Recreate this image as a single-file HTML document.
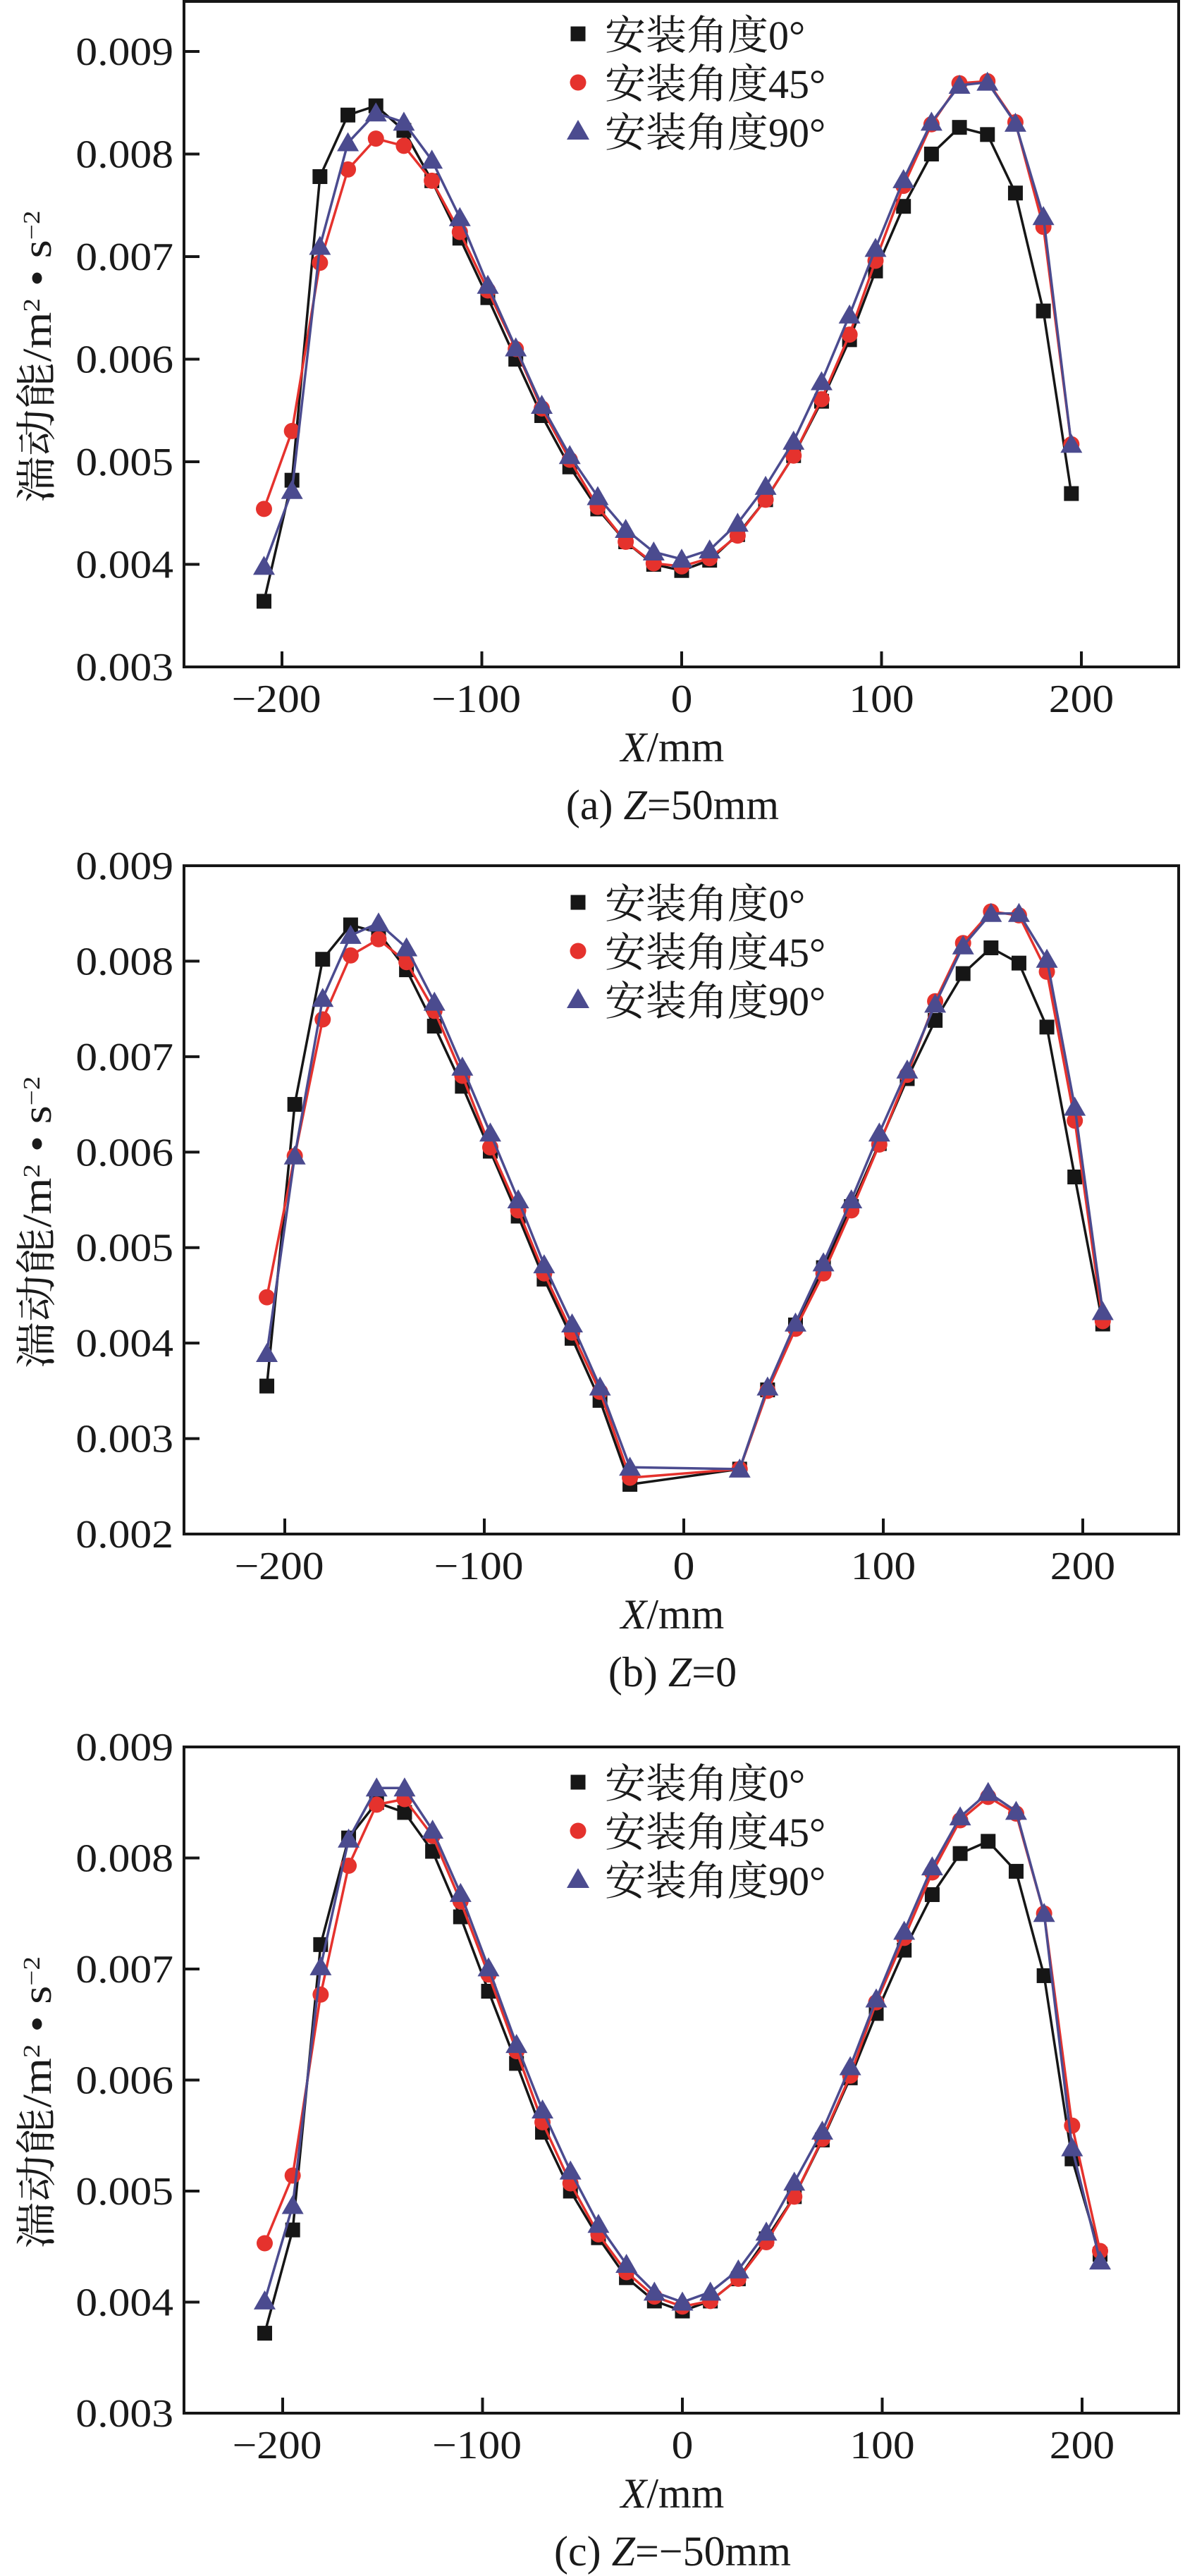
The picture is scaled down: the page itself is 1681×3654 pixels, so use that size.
<!DOCTYPE html>
<html><head><meta charset="utf-8"><title>湍动能分布</title>
<style>
html,body{margin:0;padding:0;background:#fff;}
svg{display:block;}
.num{font-family:"Liberation Serif","Noto Serif CJK SC",serif;font-size:56px;fill:#1a1a1a;}
.ttl{font-family:"Liberation Serif","Noto Serif CJK SC",serif;font-size:60px;fill:#1a1a1a;}
.cjk{font-family:"Liberation Serif","Noto Serif CJK SC",serif;font-size:58px;fill:#1a1a1a;}
</style></head>
<body>
<svg id="fig" width="1681" height="3654" viewBox="0 0 1681 3654" xmlns="http://www.w3.org/2000/svg"></svg>
<script>
// ---------- data ----------
const xA = [-209,-195,-181,-167,-153,-139,-125,-111,-97,-83,-70,-56,-42,-28,-14,0,14,28,42,56,70,84,97,111,125,139,153,167,181,195];
const a0  = [0.00364,0.00482,0.00778,0.00838,0.00847,0.00823,0.00774,0.00718,0.00660,0.00600,0.00545,0.00495,0.00454,0.00422,0.00400,0.00394,0.00404,0.00429,0.00463,0.00506,0.00559,0.00619,0.00686,0.00749,0.00800,0.00826,0.00819,0.00762,0.00647,0.00469];
const a45 = [0.00454,0.00530,0.00694,0.00785,0.00815,0.00808,0.00774,0.00724,0.00667,0.00610,0.00552,0.00502,0.00456,0.00422,0.00401,0.00398,0.00406,0.00428,0.00463,0.00506,0.00561,0.00624,0.00696,0.00769,0.00829,0.00869,0.00871,0.00831,0.00729,0.00517];
const a90 = [0.00398,0.00472,0.00710,0.00811,0.00840,0.00831,0.00794,0.00738,0.00672,0.00611,0.00555,0.00506,0.00466,0.00434,0.00412,0.00405,0.00414,0.00440,0.00476,0.00520,0.00578,0.00643,0.00708,0.00775,0.00831,0.00867,0.00870,0.00830,0.00739,0.00517];

const xB = [-209,-195,-181,-167,-153,-139,-125,-111,-97,-83,-70,-56,-42,-27,28,42,56,70,84,98,112,126,140,154,168,182,196,210];
const b0  = [0.00355,0.00650,0.00802,0.00838,0.00830,0.00791,0.00732,0.00669,0.00601,0.00533,0.00467,0.00405,0.00340,0.00252,0.00268,0.00351,0.00419,0.00479,0.00543,0.00609,0.00677,0.00738,0.00787,0.00814,0.00798,0.00731,0.00574,0.00420];
const b45 = [0.00448,0.00596,0.00739,0.00806,0.00823,0.00799,0.00748,0.00680,0.00605,0.00539,0.00473,0.00411,0.00349,0.00259,0.00268,0.00350,0.00415,0.00473,0.00539,0.00608,0.00681,0.00758,0.00819,0.00852,0.00848,0.00789,0.00633,0.00423];
const b90 = [0.00389,0.00596,0.00761,0.00827,0.00840,0.00814,0.00757,0.00689,0.00620,0.00550,0.00482,0.00420,0.00354,0.00270,0.00268,0.00354,0.00421,0.00484,0.00550,0.00620,0.00686,0.00755,0.00816,0.00850,0.00850,0.00802,0.00647,0.00433];

const xC = [-209,-195,-181,-167,-153,-139,-125,-111,-97,-83,-70,-56,-42,-28,-14,0,14,28,42,56,70,84,97,111,125,139,153,167,181,195,209];
const c0  = [0.00372,0.00465,0.00722,0.00818,0.00850,0.00841,0.00806,0.00747,0.00680,0.00615,0.00553,0.00500,0.00458,0.00422,0.00401,0.00392,0.00401,0.00421,0.00457,0.00495,0.00546,0.00602,0.00660,0.00717,0.00767,0.00804,0.00815,0.00788,0.00694,0.00529,0.00443];
const c45 = [0.00453,0.00514,0.00677,0.00793,0.00848,0.00853,0.00820,0.00761,0.00695,0.00626,0.00562,0.00507,0.00461,0.00427,0.00405,0.00396,0.00401,0.00421,0.00454,0.00495,0.00547,0.00604,0.00670,0.00728,0.00787,0.00834,0.00855,0.00840,0.00750,0.00559,0.00446];
const c90 = [0.00401,0.00487,0.00702,0.00817,0.00863,0.00863,0.00825,0.00768,0.00701,0.00632,0.00573,0.00518,0.00470,0.00434,0.00409,0.00400,0.00409,0.00429,0.00463,0.00508,0.00554,0.00612,0.00673,0.00734,0.00792,0.00837,0.00859,0.00842,0.00750,0.00539,0.00437];

const legendLabels = ["安装角度0°","安装角度45°","安装角度90°"];
const xTicks = [-200,-100,0,100,200];
const yTicksA = [0.003,0.004,0.005,0.006,0.007,0.008,0.009];
const yTicksB = [0.002,0.003,0.004,0.005,0.006,0.007,0.008,0.009];
const yTicksC = [0.003,0.004,0.005,0.006,0.007,0.008,0.009];
const captions = ["(a) ","(b) ","(c) "];
const captionRest = ["=50mm","=0","=−50mm"];

// ---------- drawing ----------
const NS = "http://www.w3.org/2000/svg";
const svg = document.getElementById("fig");
function mk(tag, attrs, parent){
  const e = document.createElementNS(NS, tag);
  for (const k in attrs) e.setAttribute(k, attrs[k]);
  (parent||svg).appendChild(e);
  return e;
}
const COLORS = ["#161616","#e5322d","#4b4b8f"];

function drawPanel(p){
  const g = mk("g", {});
  
  
  const topPx = (p.yTickTop !== undefined) ? p.yTickTop : p.yTop;
  const xs = v => p.x0 + v * p.pxPer100 / 100;
  const ys = v => topPx + (p.yMax - v) / (p.yMax - p.yMin) * (p.yBot - topPx);
  const fr = mk("rect", {x:p.left, y:p.yTop, width:p.right-p.left, height:p.yBot-p.yTop, fill:"none", stroke:"#161616", "stroke-width":4}, g);
  
  
  p.yTicks.forEach(t => {
    const y = ys(t);
    const tk = mk("line", {x1:p.left, x2:p.left+22, y1:y, y2:y, stroke:"#161616", "stroke-width":4}, g);
    
    
    const tg = mk("g", {transform:`translate(246,${y+19}) scale(1.1,1)`}, g);
    const tx = mk("text", {x:0, y:0, "text-anchor":"end", class:"num"}, tg);
    tx.textContent = t.toFixed(3);
    
    
  });
  xTicks.forEach(t => {
    const x = xs(t);
    const tk = mk("line", {x1:x, x2:x, y1:p.yBot, y2:p.yBot-22, stroke:"#161616", "stroke-width":4}, g);
    
    
    const tg = mk("g", {transform:`translate(${x-(t<0?8:0)},${p.yBot+64}) scale(1.1,1)`}, g);
    const tx = mk("text", {x:0, y:0, "text-anchor":"middle", class:"num"}, tg);
    tx.textContent = (t<0 ? "−" : "") + Math.abs(t);
    
    
  });
  p.series.forEach((vals, si) => {
    const sg = mk("g", {}, g);
    
    
    const pts = vals.map((v,i) => xs(p.xv[i]).toFixed(1) + "," + ys(v).toFixed(1)).join(" ");
    const ln = mk("polyline", {points:pts, fill:"none", stroke:COLORS[si], "stroke-width":3.5, "stroke-linejoin":"round"}, sg);
    
    
    vals.forEach((v,i) => {
      const cx = xs(p.xv[i]), cy = ys(v);
      let m;
      if (si === 0) m = mk("rect", {x:cx-10.5, y:cy-10.5, width:21, height:21, fill:COLORS[0]}, sg);
      else if (si === 1) m = mk("circle", {cx:cx, cy:cy, r:11.5, fill:COLORS[1]}, sg);
      else m = mk("polygon", {points:`${cx},${cy-15} ${cx-15.5},${cy+12} ${cx+15.5},${cy+12}`, fill:COLORS[2]}, sg);
      
      
    });
  });
  const lg = mk("g", {}, g);
  
  
  legendLabels.forEach((lab, i) => {
    const cy = p.legY + i*69, cx = 820;
    const eg = mk("g", {}, lg);
    
    
    if (i === 0) mk("rect", {x:cx-10.5, y:cy-10.5, width:21, height:21, fill:COLORS[0]}, eg);
    else if (i === 1) mk("circle", {cx:cx, cy:cy, r:11.5, fill:COLORS[1]}, eg);
    else mk("polygon", {points:`${cx},${cy-16} ${cx-16},${cy+12} ${cx+16},${cy+12}`, fill:COLORS[2]}, eg);
    const t = mk("text", {x:858, y:cy+22, class:"cjk"}, eg);
    t.textContent = lab;
  });
  const xt = mk("text", {x:954, y:p.yBot+134, "text-anchor":"middle", class:"ttl"}, g);
  xt.innerHTML = '<tspan font-style="italic">X</tspan>/mm';
  
  
  const cap = mk("text", {x:954, y:p.yBot+216, "text-anchor":"middle", class:"ttl"}, g);
  cap.innerHTML = captions[p.idx] + '<tspan font-style="italic">Z</tspan>' + captionRest[p.idx];
  
  
  const yc = (p.yTop + p.yBot)/2 + 32;
  const yt = mk("text", {x:0, y:0, transform:`translate(72,${yc}) rotate(-90)`, "text-anchor":"middle", class:"cjk", "font-size":"50px", textLength:415, lengthAdjust:"spacingAndGlyphs"}, g);
  yt.innerHTML = '湍动能/m<tspan dy="-16" font-size="34">2</tspan><tspan dy="16"> • s</tspan><tspan dy="-16" font-size="34">−2</tspan>';
  
  
}

drawPanel({id:"a", idx:0, left:261, right:1672, yTop:2, yBot:946, x0:967, pxPer100:283.5,
  yMin:0.003, yMax:0.009, yTickTop:73, yTicks:yTicksA, xv:xA, series:[a0,a45,a90], legY:48});
drawPanel({id:"b", idx:1, left:261, right:1672, yTop:1228, yBot:2176, x0:970, pxPer100:283,
  yMin:0.002, yMax:0.009, yTicks:yTicksB, xv:xB, series:[b0,b45,b90], legY:1280});
drawPanel({id:"c", idx:2, left:261, right:1672, yTop:2478, yBot:3423, x0:968, pxPer100:283.5,
  yMin:0.003, yMax:0.009, yTicks:yTicksC, xv:xC, series:[c0,c45,c90], legY:2528});
</script>
</body></html>
